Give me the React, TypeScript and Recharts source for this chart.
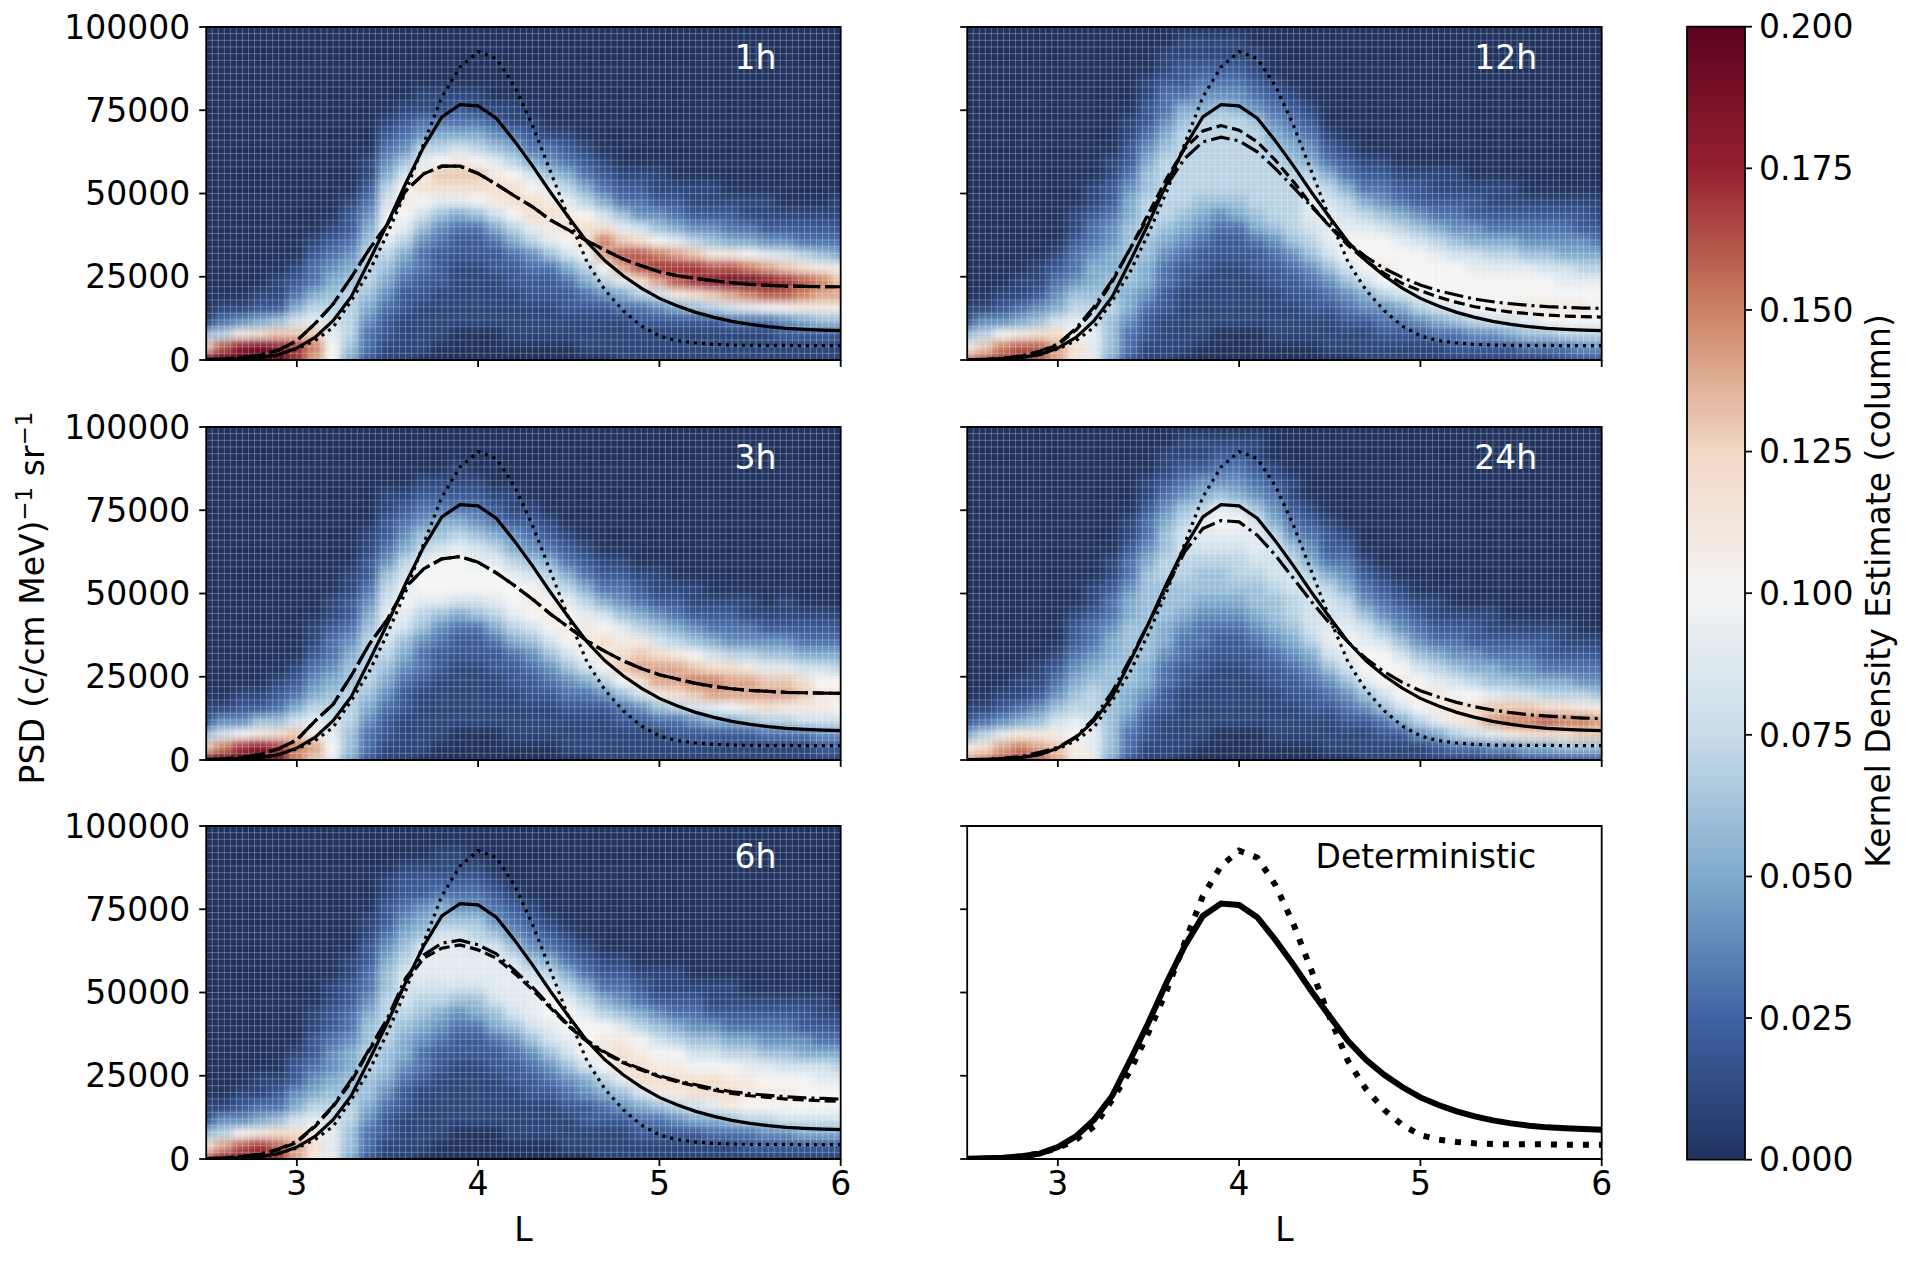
import React from 'react';
import {
  Bar, BarChart, CartesianGrid, ComposedChart, Label, Line, ReferenceArea, ReferenceDot, Scatter, XAxis, YAxis,
} from 'recharts';

const lValues = [2.5, 2.6, 2.7, 2.8, 2.9, 3.0, 3.1, 3.2, 3.3, 3.4, 3.5, 3.6, 3.7, 3.8, 3.9, 4.0, 4.1, 4.2, 4.3, 4.4, 4.5, 4.6, 4.7, 4.8, 4.9, 5.0, 5.1, 5.2, 5.3, 5.4, 5.5, 5.6, 5.7, 5.8, 5.9, 6.0];
const xTicks = [3, 4, 5, 6];
const yTicks = [0, 25000, 50000, 75000, 100000];
const cbarTicks = [0, 0.025, 0.05, 0.075, 0.1, 0.125, 0.15, 0.175, 0.2];

const truth = [100, 200, 400, 800, 1600, 3600, 6800, 11800, 19000, 29800, 41000, 53000, 64000, 73000, 76700, 76300, 72600, 65800, 58300, 50300, 42800, 35500, 29800, 25300, 21600, 18500, 16200, 14300, 12800, 11600, 10700, 10000, 9500, 9200, 9000, 8800];
const initial = [0, 100, 300, 800, 1700, 3300, 5800, 9800, 17800, 26600, 38000, 50500, 65000, 79000, 88000, 92600, 90500, 82300, 70500, 56500, 42500, 29500, 21000, 14800, 10200, 7200, 5800, 5100, 4700, 4500, 4400, 4400, 4400, 4300, 4300, 4300];

const dashed1h = [100, 300, 800, 1500, 3000, 5800, 10900, 16800, 24800, 33300, 40800, 50800, 55900, 58200, 58200, 56000, 52800, 49300, 46000, 42000, 39000, 35800, 33000, 30300, 28300, 26500, 25300, 24500, 23800, 23200, 22700, 22400, 22200, 22100, 22000, 22000];
const dashed3h = [100, 300, 800, 1700, 3400, 6000, 11700, 16700, 25300, 34800, 42300, 51900, 57400, 60400, 61100, 59400, 56200, 52400, 48300, 43800, 39800, 35800, 32600, 29800, 27500, 25600, 24300, 23000, 22100, 21400, 20900, 20600, 20300, 20200, 20100, 20000];
const dashed6h = [100, 300, 700, 1400, 2800, 5000, 9700, 15700, 23200, 32700, 41200, 53200, 60300, 63300, 64300, 62800, 60300, 55800, 50800, 45300, 39800, 35300, 31800, 28900, 26700, 24700, 23200, 21900, 20700, 19700, 19000, 18500, 18000, 17700, 17500, 17300];
const dashdot6h = [100, 300, 800, 1500, 3000, 5300, 10000, 16000, 23800, 33000, 42300, 54300, 61300, 64800, 65700, 64300, 61600, 56700, 51600, 45800, 40100, 35600, 32100, 29200, 27000, 25000, 23500, 22300, 21100, 20200, 19600, 19100, 18700, 18400, 18200, 18000];
const dashed12h = [50, 150, 500, 1200, 2500, 4500, 9000, 15000, 23500, 33500, 44000, 54500, 63500, 68800, 70400, 69000, 65500, 60000, 53500, 46500, 40000, 34500, 29800, 26000, 23000, 20800, 18900, 17300, 16000, 15100, 14400, 13900, 13500, 13200, 13000, 12900];
const dashdot12h = [50, 150, 500, 1200, 2600, 4800, 9500, 16000, 24000, 33500, 43000, 52500, 60500, 65500, 66900, 65800, 62500, 57500, 51800, 46000, 40300, 35200, 31000, 27500, 24800, 22500, 20800, 19500, 18300, 17500, 16900, 16400, 16000, 15800, 15600, 15500];
const dashdot24h = [50, 150, 500, 1100, 2300, 3800, 7000, 12500, 20500, 30500, 41000, 52000, 62500, 69500, 71900, 71500, 67500, 61500, 54500, 47500, 41000, 35500, 30500, 26500, 23300, 20800, 18900, 17300, 16000, 15000, 14200, 13600, 13200, 12900, 12600, 12400];

// one string per L column, chars are density in hundredths (0-k), PSD 0, 4000, 8000 ... upwards
const heat1h = ['kd61', 'kg731', 'kib41', 'kjc521', 'kid6211', 'hhd85321', 'efd9753321', 'aa987654321', '5677776543221', '2334567776543211', '1122345679a98754321', '11112234579aba864321', '011112233468acb974311', '0011112223469cda75311', '0001111122359cdb85321', '000111112236acda75311', '000111122358bcb96421', '00111122357acca75311', '00111223479cca85321', '0011122369bcb96431', '001122358acb975321', '01112357acca75321', '0111247aefc85321', '1111359egd96321', '111237cggc84321', '111248ehfa64211', '11125bghe95321', '11126chhd74211', '11127digb64211', '11138ejgb5321', '11139fjfa5311', '1113agie94211', '1124aghd8421', '1125bfgc7321', '1126befb6321', '1126bedb53211'];
const heat3h = ['jd621', 'kf841', 'kha421', 'kib621', 'jhc6321', 'ffd85321', 'deb97543211', '9a98765433211', '566777665432211', '233456777765432211', '112234567899876432211', '111122345689a98754321', '0111112334679aa9764321', '0011111223469aaa865321', '0001111122358aaa9753211', '0001111122368aa9864321', '0001111223579aa975321', '001111223579aa9754211', '00111223468aba864321', '0011123468aba875321', '011123468aba975321', '01112358abb975321', '1111247acca85321', '111236adcb964321', '111248cedb75321', '11136beec864211', '11237ceeb75321', '11248dfda64211', '11259efc85321', '1125aeec74321', '1126beeb74311', '1137ced96421', '1137bed964211', '1138bdc85321', '1248bba85321', '1248aba75321'];
const heat6h = ['gc621', 'ie741', 'jga421', 'jhb5311', 'hgc6321', 'eec854221', 'bcb975432211', '99987654432211', '5667766554332211', '2334566776654332211', '1122345667777665432211', '11112234556788876543221', '01111123345678998654221', '001111122345789998653211', '000111112234689998643211', '00011111223568998764321', '0001111223568999864321', '001111223468999864321', '00111223468999864321', '00111234689aa975321', '0111234689aa975321', '01122458aaa975321', '1112357abba75321', '1112469ccb964321', '112358ccba75321', '11236bcba864211', '11247bcba753211', '11258cca864321', '11359cca864211', '1136bcba753211', '1237abb975321', '1247aba964321', '1248aba864321', '1258aaa854221', '1258aa9853211', '1258aa975321'];
const heat12h = ['fb621', 'gd741', 'hfa421', 'igb5311', 'ggc64211', 'eec854321', 'bca976433211', '99987655433211', '5666766554432211', '2334556666655432211', '1122345566777665432211', '111122334567777765433211', '0111112234567777776532211', '0011111223456777777543211', '0001111122346777777643211', '0001111122356777777543211', '000111122356777777643211', '0011112234677777654321', '001112234677777654321', '00112234678998754321', '011123468999875321', '01123468aa9875321', '1112458aaa975321', '112347abaa864321', '112358aaa975321', '112479aaa864221', '11358aaa9753211', '12369aaa8643211', '1247aaa9854221', '1248aaa9753211', '1258baa9753211', '1369baa964321', '136abaa864321', '237aba9854321', '247aba9754221', '247aaa9753211'];
const heat24h = ['eb521', 'fc731', 'ge9421', 'hfb5311', 'geb64211', 'edb864321', 'bba976543221', '99987765433211', '5666666655433211', '2334556666655433211', '1122345566666665433211', '111122334556667766543211', '0111112233456677887643211', '0011111223345667899754211', '000111112234566789a964321', '000111112234567789a854321', '0001111223456678998643211', '00111122345667888754321', '0011122345677887643211', '00112234578888754321', '0111234689988753221', '011234689a98754321', '1112469aa9864321', '112368aaa864321', '11258aba864321', '1147aba864321', '1259bb9753211', '137bca864321', '138cca754221', '149ed9653211', '14bfd864321', '25cfd854321', '25cgc753221', '26cfc753211', '26dfb74321', '26deb64321'];

// colorbar colours read at each tick of the bar
const cbarColors = ['#20335f', '#3f63a3', '#7fabcd', '#c8dcea', '#f4f4f4', '#f2d8c5', '#cb8263', '#95202e', '#5b0220'];

const FONT = 'DejaVu Sans, sans-serif';
const FS = 33;
const ROW_H = 333;
const COL_W = 634.5;
const TOP_PAD = 27;
const BOTTOM_PAD = 102;
const CELL_W = COL_W / 35;
const CELL_H = ROW_H / 25;
const meshL = Array.from({ length: 106 }, (_, i) => 2.5 + i / 30);
const meshPsd = Array.from({ length: 51 }, (_, i) => i * 2000);

function hex(s: string) {
  return [1, 3, 5].map((i) => parseInt(s.slice(i, i + 2), 16));
}

function heatColor(v: number) {
  const t = Math.max(0, Math.min(7.999, (v / 0.2) * 8));
  const i = Math.floor(t);
  const a = hex(cbarColors[i]);
  const b = hex(cbarColors[i + 1]);
  const c = a.map((x, k) => Math.round(x + (b[k] - x) * (t - i)));
  return `rgb(${c[0]},${c[1]},${c[2]})`;
}

function heatCells(cols: string[]) {
  const out: { L: number; psd: number; d: number }[] = [];
  cols.forEach((col, i) => {
    const s = col.padEnd(26, '0');
    for (let j = 0; j < 26; j++) out.push({ L: lValues[i], psd: j * 4000, d: parseInt(s[j], 36) / 100 });
  });
  return out;
}

function HeatCell(props: any) {
  const { cx, cy, payload } = props;
  // outer cells run past the frame so the blur stays solid up to the clip
  const left = payload.L === 2.5 ? 30 : CELL_W / 2 + 1;
  const right = payload.L === 6 ? 30 : CELL_W / 2 + 1;
  const up = payload.psd === 100000 ? 30 : CELL_H / 2 + 1;
  const down = payload.psd === 0 ? 30 : CELL_H / 2 + 1;
  return <rect x={cx - left} y={cy - up} width={left + right} height={up + down} fill={heatColor(payload.d)} />;
}

function series(values: number[]) {
  return lValues.map((L, i) => ({ L, v: values[i] }));
}

const tickStyle = { fontSize: FS, fontFamily: FONT, fill: '#000' };
const tickLine = { stroke: '#000', strokeWidth: 1.8 };

function Panel({ left, top, title, titleL, heat, dashed, dashdot, bottom, showY, yLabel }: any) {
  const cells = heat ? heatCells(heat) : null;
  const thick = !heat;
  return (
    <div style={{ position: 'absolute', left: 0, top: top - TOP_PAD }}>
      <ComposedChart
        width={left + COL_W + 40}
        height={TOP_PAD + ROW_H + BOTTOM_PAD}
        margin={{ top: TOP_PAD, right: 40, bottom: 0, left: 0 }}
      >
        <XAxis
          type="number"
          dataKey="L"
          domain={[2.5, 6]}
          ticks={xTicks}
          allowDataOverflow
          height={BOTTOM_PAD}
          tickSize={7}
          tickMargin={6}
          interval={0}
          axisLine={false}
          tickLine={tickLine}
          tick={tickStyle}
          tickFormatter={(v: number) => (bottom ? String(v) : '')}
        >
          {bottom && <Label value="L" position="insideBottom" offset={20} style={{ fontSize: FS, fontFamily: FONT, fill: '#000' }} />}
        </XAxis>
        <YAxis
          type="number"
          dataKey="psd"
          domain={[0, 100000]}
          ticks={yTicks}
          allowDataOverflow
          width={left}
          tickSize={7}
          tickMargin={9}
          interval={0}
          axisLine={false}
          tickLine={tickLine}
          tick={tickStyle}
          tickFormatter={(v: number) => (showY ? String(v) : '')}
        >
          {yLabel && (
            <Label
              content={() => (
                <text transform="rotate(-90 33 198)" x={33} y={209} textAnchor="middle" fontSize={FS} fontFamily={FONT} fill="#000">
                  PSD (c/cm MeV)<tspan dy={-12} fontSize={23}>−1</tspan><tspan dy={12}> sr</tspan><tspan dy={-12} fontSize={23}>−1</tspan>
                </text>
              )}
            />
          )}
        </YAxis>
        {cells && <Scatter data={cells} className="heat" shape={HeatCell} isAnimationActive={false} zIndex={100} />}
        {cells && (
          <CartesianGrid
            stroke="#fff"
            strokeOpacity={0.27}
            strokeWidth={1}
            horizontalValues={meshPsd}
            verticalValues={meshL}
            zIndex={200}
          />
        )}
        <Line data={series(initial)} dataKey="v" type="linear" stroke="#000" strokeWidth={thick ? 6 : 3.2} strokeDasharray={thick ? '6 10' : '3 5'} dot={false} isAnimationActive={false} zIndex={400} />
        <Line data={series(truth)} dataKey="v" type="linear" stroke="#000" strokeWidth={thick ? 6 : 3.2} dot={false} isAnimationActive={false} zIndex={400} />
        {dashed && <Line data={series(dashed)} dataKey="v" type="linear" stroke="#000" strokeWidth={3.2} strokeDasharray="11 5" dot={false} isAnimationActive={false} zIndex={400} />}
        {dashdot && <Line data={series(dashdot)} dataKey="v" type="linear" stroke="#000" strokeWidth={3.2} strokeDasharray="19 5 3 5" dot={false} isAnimationActive={false} zIndex={400} />}
        <ReferenceArea x1={2.5} x2={6} y1={0} y2={100000} fill="none" stroke="#000" strokeWidth={1.8} zIndex={500} />
        <ReferenceDot
          x={titleL}
          y={90800}
          r={0}
          fill="none"
          stroke="none"
          zIndex={500}
          label={{ value: title, position: 'center', fontSize: FS, fontFamily: FONT, fill: heat ? '#fff' : '#000' }}
        />
      </ComposedChart>
    </div>
  );
}

function Colorbar() {
  return (
    <div style={{ position: 'absolute', left: 1686, top: 0 }}>
      <BarChart
        width={224}
        height={1262}
        data={[{ name: 'density', v: 0.2 }]}
        barCategoryGap={0}
        margin={{ top: 26.7, right: 0, bottom: 102.3, left: 1 }}
      >
        <defs>
          <linearGradient id="cbar" x1="0" y1="1" x2="0" y2="0">
            {cbarColors.map((c, i) => (
              <stop key={i} offset={i / (cbarColors.length - 1)} stopColor={c} />
            ))}
          </linearGradient>
        </defs>
        <XAxis dataKey="name" hide />
        <YAxis
          orientation="right"
          domain={[0, 0.2]}
          ticks={cbarTicks}
          width={165}
          tickSize={7}
          tickMargin={7}
          interval={0}
          axisLine={false}
          tickLine={tickLine}
          tick={tickStyle}
          tickFormatter={(v: number) => v.toFixed(3)}
        >
          <Label
            content={() => (
              <text transform="rotate(-90 193 591)" x={193} y={602} textAnchor="middle" fontSize={FS} fontFamily={FONT} fill="#000">
                Kernel Density Estimate (column)
              </text>
            )}
          />
        </YAxis>
        <Bar dataKey="v" fill="url(#cbar)" stroke="#000" strokeWidth={1.8} isAnimationActive={false} />
      </BarChart>
    </div>
  );
}

export default function App() {
  return (
    <div style={{ position: 'absolute', left: 0, top: 0, width: 1910, height: 1262, background: '#fff', overflow: 'hidden' }}>
      <style>{`.heat { filter: blur(4px); } .recharts-surface { overflow: visible; }`}</style>
      <Panel left={206.2} top={26.7} title="1h" titleL={5.53} heat={heat1h} dashed={dashed1h} dashdot={dashed1h} showY />
      <Panel left={206.2} top={426.5} title="3h" titleL={5.53} heat={heat3h} dashed={dashed3h} dashdot={dashed3h} showY yLabel />
      <Panel left={206.2} top={826.3} title="6h" titleL={5.53} heat={heat6h} dashed={dashed6h} dashdot={dashdot6h} showY bottom />
      <div style={{ position: 'absolute', left: 760.5, top: 0 }}>
        <Panel left={206.2} top={26.7} title="12h" titleL={5.47} heat={heat12h} dashed={dashed12h} dashdot={dashdot12h} />
        <Panel left={206.2} top={426.5} title="24h" titleL={5.47} heat={heat24h} dashdot={dashdot24h} />
        <Panel left={206.2} top={826.3} title="Deterministic" titleL={5.03} bottom />
      </div>
      <Colorbar />
    </div>
  );
}
